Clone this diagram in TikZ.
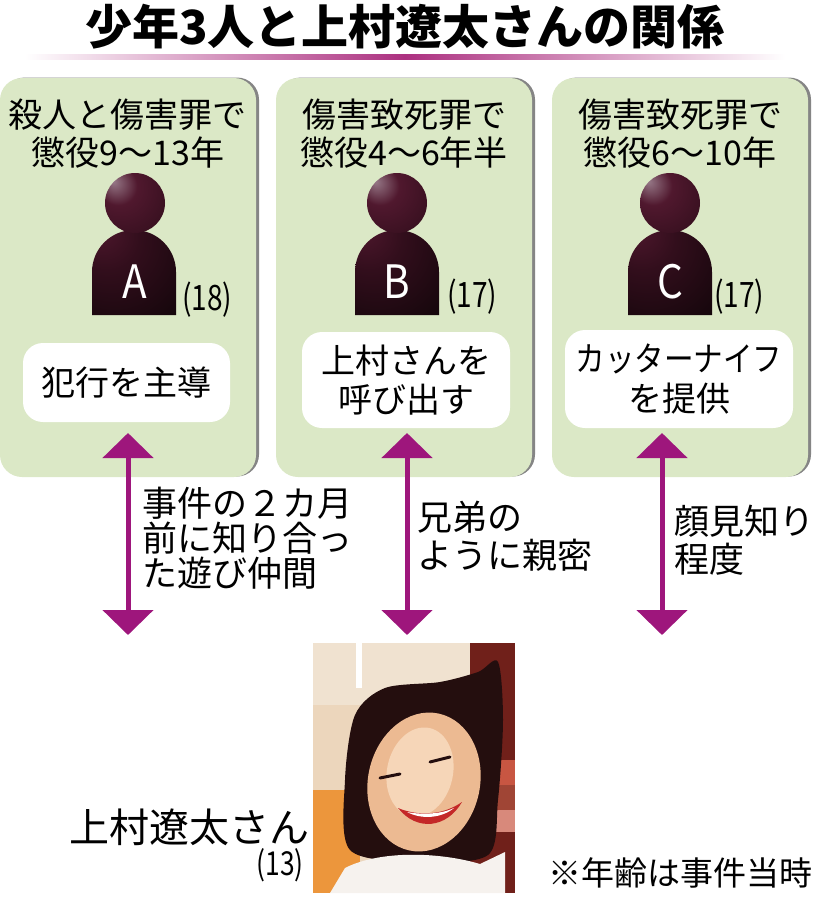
\documentclass[tikz,border=0pt]{standalone}
\usepackage{fontspec}
\setmainfont{Noto Sans CJK JP}
\usetikzlibrary{positioning,arrows.meta,shadows}

\definecolor{panelgreen}{RGB}{219,232,198}
\definecolor{linkpurple}{RGB}{158,22,124}
\definecolor{rulepurple}{RGB}{172,48,128}
\definecolor{figlight}{RGB}{150,120,135}
\definecolor{figmid}{RGB}{80,24,46}
\definecolor{figdeep}{RGB}{50,14,28}
\definecolor{figdark}{RGB}{20,6,11}
\definecolor{photobg}{RGB}{236,214,188}
\definecolor{photolight}{RGB}{240,226,208}
\definecolor{photowarm}{RGB}{236,150,60}
\definecolor{photodark}{RGB}{112,32,26}
\definecolor{photored}{RGB}{200,86,66}
\definecolor{hair}{RGB}{36,14,14}
\definecolor{skin}{RGB}{236,186,146}
\definecolor{skinlight}{RGB}{246,214,184}
\definecolor{lip}{RGB}{196,40,40}
\definecolor{shirt}{RGB}{246,242,238}

\pgfdeclareradialshading{headshade}{\pgfpoint{-18bp}{18bp}}{color(0bp)=(figlight); color(16bp)=(figmid); color(45bp)=(figdeep); color(75bp)=(figdark)}
\pgfdeclareradialshading{bodyshade}{\pgfpoint{-22bp}{28bp}}{color(0bp)=(figmid); color(20bp)=(figdeep); color(50bp)=(figdark); color(80bp)=(figdark)}

\begin{document}
\begin{tikzpicture}[
    x=1pt, y=1pt,
    node distance=276pt,
    font=\normalfont,
    panel/.style={
		rectangle,
		rounded corners=22pt,
		fill=panelgreen,
		minimum width=256pt,
		minimum height=399pt,
		drop shadow={shadow xshift=3pt, shadow yshift=0.5pt, fill=black!60, opacity=0.8}
	},
	heading/.style={
		align=center,
		inner sep=0pt,
		font=\fontsize{34}{38}\selectfont
	},
	rolebox/.style={
		rectangle,
		rounded corners=20pt,
		fill=white,
		align=center,
		inner sep=0pt,
		font=\fontsize{34}{39.5}\selectfont
	},
	head/.style={
		circle,
		minimum size=60pt,
		inner sep=0pt,
		shade,
		shading=headshade
	},
	letter/.style={
		text=white,
		inner sep=0pt,
		font=\fontsize{46}{46}\selectfont
	},
	age/.style={
		anchor=west,
		inner sep=0pt,
		font=\fontsize{35}{35}\selectfont
	},
	link/.style={
		draw=linkpurple,
		line width=5pt,
		{Triangle[width=50pt,length=25pt]}-{Triangle[width=50pt,length=25pt]}
	},
	linktext/.style={
		anchor=west,
		align=left,
		inner sep=0pt,
		font=\fontsize{35}{38.5}\selectfont
	},
	photo/.style={
		rectangle,
		inner sep=0pt,
		minimum width=202pt,
		minimum height=250pt,
		fill=photobg
	}
  ]

\useasboundingbox (0,0) rectangle (815,-900);

% // title
\node [inner sep=0pt, font=\bfseries\fontsize{47}{47}\selectfont] (title) at (405,-27) {少年3人と上村遼太さんの関係};
\coordinate (ruleL) at (25,-57);
\coordinate (ruleM) at (405,-57);
\coordinate (ruleR) at (785,-57);
\shade [left color=white, right color=rulepurple] ([yshift=2.5pt]ruleL) rectangle ([yshift=-2.5pt]ruleM);
\shade [left color=rulepurple, right color=white] ([yshift=2.5pt]ruleM) rectangle ([yshift=-2.5pt]ruleR);

% // the three panels
\node [panel] (panelA) at (128,-277.5) {};
\node [panel, right of=panelA] (panelB) {};
\node [panel, right of=panelB] (panelC) {};

\node [heading] (crimeA) at ([yshift=-56pt]panelA.north) {殺人と傷害罪で\\懲役9〜13年};
\node [heading] (crimeB) at ([yshift=-56pt]panelB.north) {傷害致死罪で\\懲役4〜6年半};
\node [heading] (crimeC) at ([yshift=-56pt]panelC.north) {傷害致死罪で\\懲役6〜10年};

% figures
\shade [shading=bodyshade] (92,-315) -- (92,-272) arc (180:0:42) -- (176,-315) -- cycle;
\node [head] (headA) at (135,-203) {};
\node [letter] (letterA) at (135,-282) {\scalebox{0.88}[1]{A}};
\node [age] (ageA) at (182,-300) {\scalebox{0.8}[1]{(18)}};

\shade [shading=bodyshade] (355,-315) -- (355,-272) arc (180:0:42) -- (439,-315) -- cycle;
\node [head] (headB) at (397,-203) {};
\node [letter] (letterB) at (397,-282) {\scalebox{0.88}[1]{B}};
\node [age] (ageB) at (447,-297) {\scalebox{0.8}[1]{(17)}};

\shade [shading=bodyshade] (628,-315) -- (628,-272) arc (180:0:42) -- (712,-315) -- cycle;
\node [head] (headC) at (670,-203) {};
\node [letter] (letterC) at (670,-282) {\scalebox{0.88}[1]{C}};
\node [age] (ageC) at (714,-297) {\scalebox{0.8}[1]{(17)}};

\node [rolebox, minimum width=207pt, minimum height=79pt] (roleA) at (126.5,-382.5) {犯行を主導};
\node [rolebox, minimum width=208pt, minimum height=96pt] (roleB) at (406,-380) {上村さんを\\呼び出す};
\node [rolebox, minimum width=228pt, minimum height=98pt] (roleC) at (679,-379) {\scalebox{0.87}[1]{カッターナイフ}\\を提供};

% // relations
\coordinate (topA) at (128,-433);
\coordinate (endA) at (128,-635);
\coordinate (topB) at (407,-433);
\coordinate (endB) at (407,-635);
\coordinate (topC) at (662,-433);
\coordinate (endC) at (662,-635);

\draw [link] (topA) -- (endA);
\draw [link] (topB) -- (endB);
\draw [link] (topC) -- (endC);

\node [linktext, font=\fontsize{35}{35}\selectfont] (tieA) at (142,-538) {事件の２カ月\\前に知り合っ\\た遊び仲間};
\node [linktext] (tieB) at (417,-536) {兄弟の\\ように親密};
\node [linktext] (tieC) at (674,-540) {顔見知り\\程度};

% // the photo
\node [photo] (photo) at (414,-768) {};
\begin{scope}
\clip (photo.south west) rectangle (photo.north east);
\fill [photolight] (313,-643) rectangle (515,-705);
\fill [white] (356,-643) rectangle (362,-688);
\fill [photowarm] (313,-790) rectangle (360,-893);
\fill [photodark] (470,-643) rectangle (515,-893);
\fill [photored] (492,-760) rectangle (515,-785);
\fill [photored!80!black] (492,-785) rectangle (515,-810);
\fill [photored!70!white] (492,-810) rectangle (515,-832);
\fill [hair] plot [smooth cycle] coordinates {(350,-850) (345,-780) (355,-715) (385,-688) (440,-682) (478,-672) (498,-662) (503,-720) (498,-800) (488,-855) (420,-862)};
\fill [skin, rotate around={-12:(424,-782)}] (424,-782) ellipse (56pt and 70pt);
\fill [skinlight, rotate around={-12:(420,-772)}] (420,-772) ellipse (33pt and 45pt);
\draw [hair, line width=3pt, line cap=round] (380,-778) -- (400,-774);
\draw [hair, line width=3pt, line cap=round] (430,-762) -- (450,-757);
\fill [lip] (398,-808) .. controls (417,-832) and (447,-828) .. (462,-802) .. controls (442,-816) and (417,-816) .. cycle;
\fill [white] (407,-812) .. controls (422,-820) and (442,-818) .. (454,-808) .. controls (442,-814) and (422,-815) .. cycle;
\fill [shirt] (330,-893) -- (345,-868) .. controls (380,-850) and (440,-852) .. (480,-864) -- (505,-852) -- (505,-893) -- cycle;
\end{scope}

\node [anchor=east, inner sep=0pt, font=\fontsize{40}{40}\selectfont] (uemura) at ([xshift=-3pt, yshift=66pt]photo.south west) {上村遼太さん};
\node [anchor=east, inner sep=0pt, font=\fontsize{33}{33}\selectfont] (ageU) at ([xshift=-9pt, yshift=28pt]photo.south west) {\scalebox{0.8}[1]{(13)}};

\node [inner sep=0pt, font=\fontsize{33}{33}\selectfont] (remark) at (680,-873) {※年齢は事件当時};

\end{tikzpicture}
\end{document}
